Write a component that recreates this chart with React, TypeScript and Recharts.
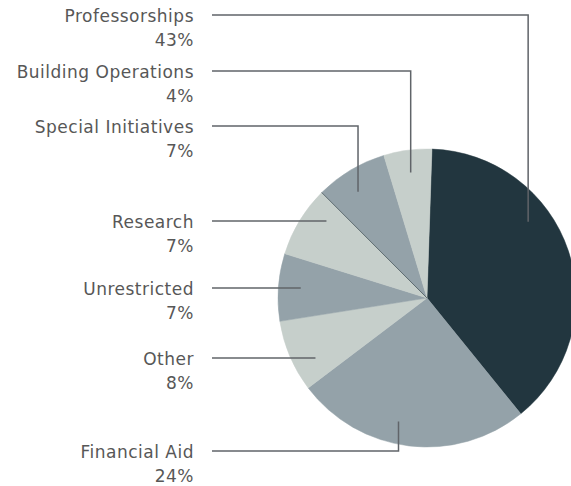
import { PieChart, Pie, Cell } from 'recharts'

// clockwise from the top
const categories = ['Professorships', 'Financial Aid', 'Other', 'Unrestricted', 'Research', 'Special Initiatives', 'Building Operations']
// slice sizes as drawn (share of the circle)
const sliceShares = [38.6, 25.5, 7.8, 7.3, 7.7, 7.8, 5.2]
// percentages printed in the labels
const labelPercents = ['43%', '24%', '8%', '7%', '7%', '7%', '4%']

const colors = ['#22363f', '#94a2a9', '#c6cfcb', '#94a2a9', '#c6cfcb', '#94a2a9', '#c6cfcb']

// label layout: row of each label, and angle (deg clockwise from top) of the elbow end, null = straight line
const labelRowY = [15, 451, 358, 288, 221, 126, 71]
const leaderAngle: (number | null)[] = [53, 193, null, null, null, 327, 352.6]

const data = categories.map((name, i) => ({ name, value: sliceShares[i], pct: labelPercents[i] }))

const TEXT_X = 194
const LINE_X = 212
const textStyle = { fontFamily: '"DejaVu Sans", sans-serif', fontSize: 17, fill: '#575757', letterSpacing: 0.5 }

const renderLabel = (props: any) => {
	const { cx, cy, outerRadius, index, endAngle } = props
	const rowY = labelRowY[index]
	const angle = leaderAngle[index]
	const reach = outerRadius * 0.85
	let path: string
	if (angle === null) {
		const dy = rowY - cy
		const endX = cx - Math.sqrt(Math.max(0, reach * reach - dy * dy))
		path = `M${LINE_X},${rowY} H${endX}`
	} else {
		const rad = (angle * Math.PI) / 180
		const endX = cx + reach * Math.sin(rad)
		const endY = cy - reach * Math.cos(rad)
		path = `M${LINE_X},${rowY} H${endX} V${endY}`
	}
	// thin seam the original shows between Research and Special Initiatives
	let seam = null
	if (categories[index] === 'Research') {
		const r = (-endAngle * Math.PI) / 180
		seam = (
			<line
				x1={cx}
				y1={cy}
				x2={cx + outerRadius * Math.cos(r)}
				y2={cy + outerRadius * Math.sin(r)}
				stroke='#4c5a60'
				strokeWidth={0.8}
			/>
		)
	}
	return (
		<g key={`label-${index}`}>
			{seam}
			<path d={path} stroke='#606469' strokeWidth={1.5} fill='none' />
			<text x={TEXT_X} y={rowY + 7} textAnchor='end' style={textStyle}>
				{categories[index]}
			</text>
			<text x={TEXT_X} y={rowY + 31} textAnchor='end' style={textStyle}>
				{labelPercents[index]}
			</text>
		</g>
	)
}

export default function App() {
	return (
		<div style={{ position: 'absolute', left: 0, top: 0, width: 571, height: 486, background: '#fff' }}>
			<PieChart width={571} height={486} margin={{ top: 0, right: 0, bottom: 0, left: 0 }}>
				<Pie
					data={data}
					dataKey='value'
					nameKey='name'
					cx={427}
					cy={298}
					outerRadius={149}
					startAngle={88.1}
					endAngle={-271.9}
					label={renderLabel}
					labelLine={false}
					isAnimationActive={false}
				>
					{data.map((entry, index) => (
						<Cell key={`${entry.name}-${index}`} fill={colors[index]} stroke={colors[index]} strokeWidth={0.5} />
					))}
				</Pie>
			</PieChart>
		</div>
	)
}
